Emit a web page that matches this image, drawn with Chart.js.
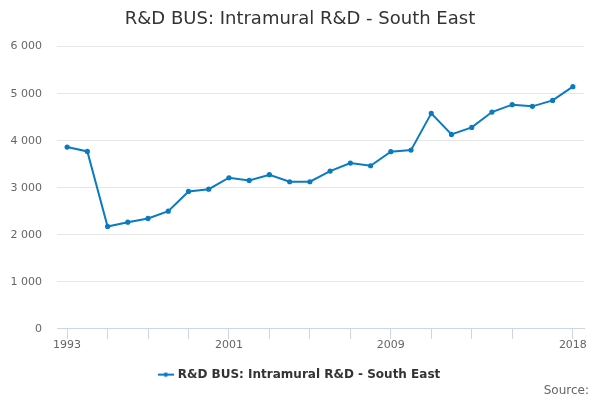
<!DOCTYPE html>
<html lang="en">

<head>
    <meta charset="UTF-8">
    <title>R&amp;D BUS: Intramural R&amp;D - South East</title>
    <script src="https://cdn.jsdelivr.net/npm/chart.js@4.4.0/dist/chart.umd.min.js"></script>
    <style>
        html, body { margin: 0; padding: 0; background: #fff; }
        #wrap { width: 600px; height: 400px; position: relative; }
    </style>
</head>

<body>
    <div id="wrap">
        <canvas id="chart1" width="600" height="400"></canvas>
    </div>
</body>
<script>
    // data
    const years = [1993, 1994, 1995, 1996, 1997, 1998, 1999, 2000, 2001, 2002, 2003, 2004, 2005,
        2006, 2007, 2008, 2009, 2010, 2011, 2012, 2013, 2014, 2015, 2016, 2017, 2018];
    const values = [3864, 3772, 2177, 2268, 2347, 2502, 2921, 2970, 3213, 3155, 3277, 3128, 3128,
        3354, 3524, 3468, 3766, 3800, 4581, 4134, 4283, 4609, 4766, 4730, 4857, 5149];
    const tickYears = [1993, 1995, 1997, 1999, 2001, 2003, 2005, 2007, 2009, 2011, 2013, 2015, 2018];
    const labelYears = [1993, 2001, 2009, 2018];
    const seriesName = 'R&D BUS: Intramural R&D - South East';

    const lineColor = '#0a7bc1';
    const font = "'DejaVu Sans', sans-serif";

    // legend symbol: short line with a dot in the middle
    const sym = document.createElement('canvas');
    sym.width = 16; sym.height = 6;
    const sc = sym.getContext('2d');
    sc.strokeStyle = lineColor;
    sc.lineWidth = 2;
    sc.beginPath(); sc.moveTo(0, 3); sc.lineTo(16, 3); sc.stroke();
    sc.fillStyle = lineColor;
    sc.beginPath(); sc.arc(8, 3, 2.2, 0, Math.PI * 2); sc.fill();

    // title + legend centred on the whole canvas, source text nearer the right edge
    const shiftBoxes = {
        id: 'shiftBoxes',
        afterLayout(chart) {
            chart.boxes.forEach(b => {
                if (b === chart.legend || (b.options && b.options.text === seriesName)) {
                    b.left += 8; b.right += 8;
                } else if (b.options && b.options.text === 'Source:') {
                    b.left += 5; b.right += 5;
                }
            });
        }
    };

    const points = years.map((y, i) => ({ x: y, y: values[i] }));

    const ctx = document.getElementById('chart1').getContext('2d');
    const myChart = new Chart(ctx, {
        type: 'line',
        data: {
            datasets: [{
                label: seriesName,
                data: points,
                borderColor: lineColor,
                backgroundColor: lineColor,
                borderWidth: 2,
                pointRadius: 1.6,
                pointHoverRadius: 3,
                tension: 0,
                fill: false,
            }]
        },
        plugins: [shiftBoxes],
        options: {
            responsive: false,
            animation: false,
            devicePixelRatio: 1,
            layout: { padding: { left: 0, right: 16, top: 4, bottom: 2 } },
            plugins: {
                title: {
                    display: true,
                    text: seriesName,
                    color: '#333333',
                    font: { family: font, size: 18, weight: 'normal' },
                    padding: { top: 5, bottom: 16 },
                },
                subtitle: {
                    display: true,
                    text: 'Source:',
                    position: 'bottom',
                    align: 'end',
                    color: '#666666',
                    font: { family: font, size: 12, weight: 'normal' },
                    padding: { top: -7, bottom: 0 },
                },
                legend: {
                    position: 'bottom',
                    labels: {
                        usePointStyle: true,
                        pointStyle: sym,
                        color: '#333333',
                        font: { family: font, size: 12, weight: 'bold' },
                        padding: 16.5,
                    }
                },
                tooltip: { enabled: false },
            },
            scales: {
                x: {
                    type: 'linear',
                    min: 1992.5,
                    max: 2018.55,
                    afterBuildTicks: axis => {
                        axis.ticks = tickYears.map(v => ({ value: v }));
                    },
                    grid: {
                        drawOnChartArea: false,
                        drawTicks: true,
                        tickLength: 10,
                        color: '#ccd6eb',
                    },
                    border: { display: true, color: '#ccd6eb', width: 1 },
                    ticks: {
                        autoSkip: false,
                        maxRotation: 0,
                        color: '#666666',
                        font: { family: font, size: 11 },
                        padding: 0,
                        callback: v => labelYears.includes(v) ? String(v) : '',
                    },
                },
                y: {
                    min: 0,
                    max: 6000,
                    afterFit: axis => { axis.width = 57; },
                    grid: { color: '#e6e6e6', drawTicks: false },
                    border: { display: false },
                    ticks: {
                        stepSize: 1000,
                        color: '#666666',
                        font: { family: font, size: 11 },
                        padding: 15,
                        callback: v => String(v).replace(/\B(?=(\d{3})+(?!\d))/g, ' '),
                    },
                },
            },
        },
    });
</script>

</html>
